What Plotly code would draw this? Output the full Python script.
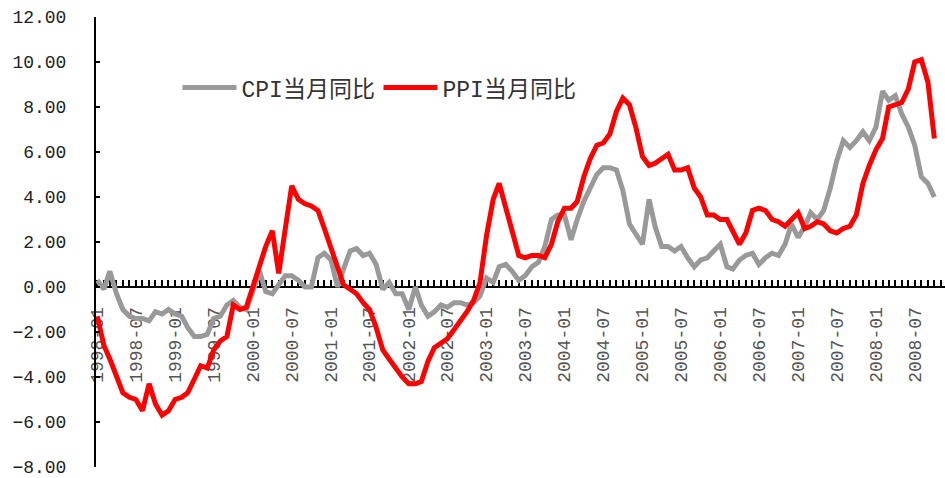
import pandas as pd
import plotly.graph_objects as go

months = pd.date_range("1998-01-01", "2008-10-01", freq="MS")

cpi = [
    0.3, -0.1, 0.7, -0.3, -1.0, -1.3, -1.4, -1.4, -1.5, -1.1, -1.2, -1.0,   # 1998
    -1.2, -1.3, -1.8, -2.2, -2.2, -2.1, -1.4, -1.3, -0.8, -0.6, -0.9, -1.0,  # 1999
    -0.2, 0.7, -0.2, -0.3, 0.1, 0.5, 0.5, 0.3, 0.0, 0.0, 1.3, 1.5,          # 2000
    1.2, 0.0, 0.8, 1.6, 1.7, 1.4, 1.5, 1.0, -0.1, 0.2, -0.3, -0.3,          # 2001
    -1.0, 0.0, -0.8, -1.3, -1.1, -0.8, -0.9, -0.7, -0.7, -0.8, -0.7, -0.4,  # 2002
    0.4, 0.2, 0.9, 1.0, 0.7, 0.3, 0.5, 0.9, 1.1, 1.8, 3.0, 3.2,             # 2003
    3.2, 2.1, 3.0, 3.8, 4.4, 5.0, 5.3, 5.3, 5.2, 4.3, 2.8, 2.4,             # 2004
    1.9, 3.9, 2.7, 1.8, 1.8, 1.6, 1.8, 1.3, 0.9, 1.2, 1.3, 1.6,             # 2005
    1.9, 0.9, 0.8, 1.2, 1.4, 1.5, 1.0, 1.3, 1.5, 1.4, 1.9, 2.8,             # 2006
    2.2, 2.7, 3.3, 3.0, 3.4, 4.4, 5.6, 6.5, 6.2, 6.5, 6.9, 6.5,             # 2007
    7.1, 8.7, 8.3, 8.5, 7.7, 7.1, 6.3, 4.9, 4.6, 4.0,                       # 2008
]

ppi = [
    -1.3, -2.6, -3.2, -4.0, -4.7, -4.9, -5.0, -5.5, -4.3, -5.2, -5.7, -5.5,  # 1998
    -5.0, -4.9, -4.7, -4.1, -3.5, -3.6, -2.8, -2.4, -2.2, -0.8, -1.0, -0.9,  # 1999
    0.0, 1.0, 1.8, 2.5, 0.6, 2.6, 4.5, 3.9, 3.7, 3.6, 3.4, 2.6,             # 2000
    1.7, 0.8, 0.1, -0.1, -0.3, -0.7, -1.0, -1.8, -2.8, -3.2, -3.6, -4.0,    # 2001
    -4.3, -4.3, -4.2, -3.3, -2.7, -2.5, -2.3, -1.9, -1.5, -1.1, -0.6, 0.2,  # 2002
    2.3, 3.9, 4.6, 3.5, 2.4, 1.4, 1.3, 1.4, 1.4, 1.3, 1.9, 2.9,             # 2003
    3.5, 3.5, 3.8, 4.9, 5.7, 6.3, 6.4, 6.8, 7.8, 8.4, 8.1, 7.1,             # 2004
    5.8, 5.4, 5.5, 5.7, 5.9, 5.2, 5.2, 5.3, 4.4, 4.0, 3.2, 3.2,             # 2005
    3.0, 3.0, 2.5, 1.9, 2.4, 3.4, 3.5, 3.4, 3.0, 2.9, 2.7, 3.0,             # 2006
    3.3, 2.6, 2.7, 2.9, 2.8, 2.5, 2.4, 2.6, 2.7, 3.2, 4.6, 5.4,             # 2007
    6.1, 6.6, 8.0, 8.1, 8.2, 8.8, 10.0, 10.1, 9.1, 6.6,                     # 2008
]

y_ticks = [-8, -6, -4, -2, 0, 2, 4, 6, 8, 10, 12]

series_names = ["CPI当月同比", "PPI当月同比"]
series_colors = ["#999999", "#FF0000"]

fig = go.Figure()
for name, vals, col in zip(series_names, [cpi, ppi], series_colors):
    fig.add_trace(go.Scatter(
        x=months, y=vals, name=name, mode="lines",
        line=dict(color=col, width=5),
    ))

fig.update_layout(
    width=945, height=478,
    margin=dict(l=96, r=0, t=17, b=11),
    paper_bgcolor="white", plot_bgcolor="white",
    showlegend=True,
    legend=dict(
        orientation="h", x=0.096, y=0.843, xanchor="left", yanchor="middle",
        font=dict(family="Liberation Mono, Noto Sans CJK SC", size=23, color="#333333"),
        bgcolor="rgba(0,0,0,0)", itemwidth=54,
        entrywidth=132, entrywidthmode="pixels",
    ),
    xaxis=dict(
        type="date",
        range=["1997-12-26", "2008-11-20"],
        anchor="free", position=0.4,
        showline=True, linecolor="black", linewidth=2,
        showgrid=False, zeroline=False,
        ticks="inside", ticklen=6, tickcolor="black", tickwidth=1.5,
        tick0="1998-01-01", dtick="M6", tickformat="%Y-%m",
        tickangle=-90, ticklabelstandoff=12,
        minor=dict(ticks="inside", ticklen=6, tickcolor="black", tickwidth=1.5, dtick="M1", tick0="1998-01-01", showgrid=False),
        tickfont=dict(family="Liberation Mono", size=18, color="#555555"),
        layer="below traces",
        automargin=False,
    ),
    yaxis=dict(
        range=[-8, 12], tickvals=y_ticks, tickformat=".2f",
        showline=True, linecolor="black", linewidth=2,
        showgrid=False, zeroline=False,
        ticks="inside", ticklen=4, tickcolor="black", tickwidth=1.5,
        ticklabelstandoff=24, ticklabeloverflow="allow",
        tickfont=dict(family="Liberation Mono", size=18, color="#222222"),
        automargin=False,
    ),
)

fig.write_html(
    "out.html",
    config={"displayModeBar": False},
    post_script="document.body.style.margin='0';document.body.style.overflow='hidden';",
)
